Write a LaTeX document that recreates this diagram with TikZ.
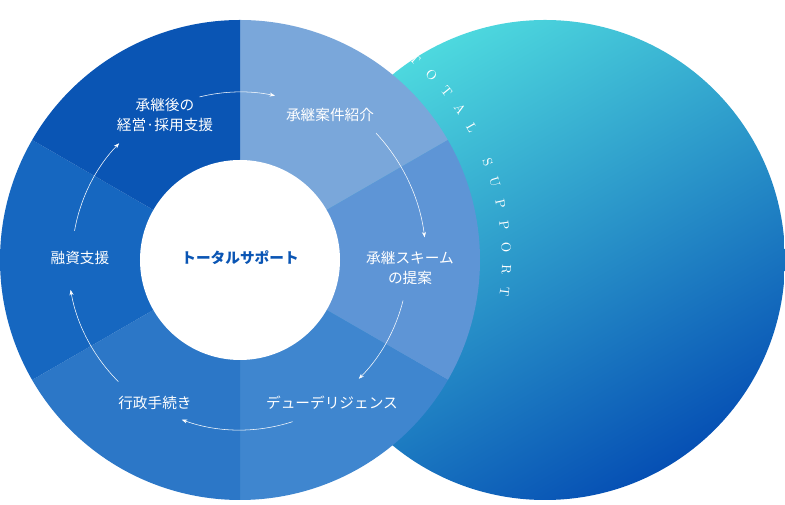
\documentclass[tikz,border=0pt]{standalone}
\usepackage{fontspec}
\newfontfamily\jpfont{Noto Sans CJK JP}
\usetikzlibrary{arrows.meta,decorations.text}
\definecolor{segA}{HTML}{7AA7DA}
\definecolor{segB}{HTML}{5E95D6}
\definecolor{segC}{HTML}{3F86CF}
\definecolor{segD}{HTML}{2C77C7}
\definecolor{segE}{HTML}{1667C0}
\definecolor{segF}{HTML}{0A55B4}
\definecolor{tealtop}{HTML}{4DD8DE}
\definecolor{bluebot}{HTML}{0650B4}
\begin{document}
\begin{tikzpicture}[x=0.75pt,y=0.75pt,
    label/.style={font=\jpfont\fontsize{11}{15}\selectfont, text=white, align=center},
    cyc/.style={white, thin, -{Stealth[length=4pt]}}]
        \useasboundingbox (-240,-245) rectangle (545,260);
        % right circle
        \shade[top color=tealtop, bottom color=bluebot, shading angle=30]
            (305,0) circle[radius=240];
        % left ring
        \foreach \a/\c in {30/segA,-30/segB,-90/segC,-150/segD,150/segE,90/segF}{
            \fill[\c] (0,0) -- (\a:240) arc[start angle=\a, delta angle=60, radius=240] -- cycle;
        }
        \fill[white] (0,0) circle[radius=100];
        \path[font=\rmfamily\fontsize{9}{9}\selectfont, decorate,
            decoration={text along path, text align={fit to path}, text color=white,
            text={TOTAL SUPPORT}}]
            (50:262) arc[start angle=50, end angle=-8, radius=262];
        \node[label, text=segF, font=\jpfont\bfseries\fontsize{11}{15}\selectfont] (center) at (0,2) {トータルサポート};
        \node[label] (after) at (-75,145) {承継後の\\経営·採用支援};
        \node[label] (deal) at (90,145) {承継案件紹介};
        \node[label] (scheme) at (170,-8) {承継スキーム\\の提案};
        \node[label] (dd) at (92,-143) {デューデリジェンス};
        \node[label] (admin) at (-85,-143) {行政手続き};
        \node[label] (loan) at (-160,2) {融資支援};
        % cycle arrows
        \draw[cyc] (104:168) arc[start angle=104, end angle=78, radius=168];
        \draw[cyc] (43:186) arc[start angle=43, end angle=7, radius=186];
        \draw[cyc] (-14:168) arc[start angle=-14, end angle=-45, radius=168];
        \draw[cyc] (-72:170) arc[start angle=-72, end angle=-110, radius=170];
        \draw[cyc] (-135:172) arc[start angle=-135, end angle=-170, radius=172];
        \draw[cyc] (170:168) arc[start angle=170, end angle=136, radius=168];
\end{tikzpicture}
\end{document}
